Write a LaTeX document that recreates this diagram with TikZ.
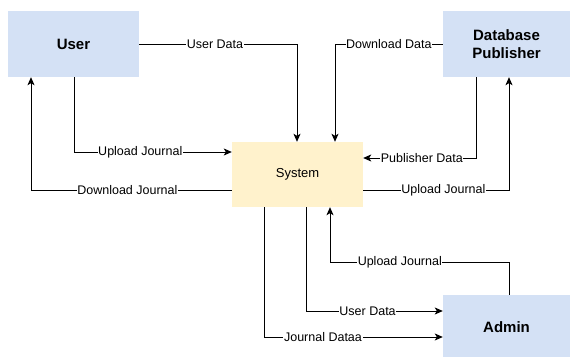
\documentclass[tikz,border=0pt]{standalone}
\usepackage{fontspec}
\setmainfont{Liberation Sans}
\usetikzlibrary{arrows.meta}
\definecolor{boxblue}{HTML}{D4E1F5}
\definecolor{boxyellow}{HTML}{FFF2CC}
\begin{document}
\begin{tikzpicture}[x=1pt,y=-1pt,
  entity/.style={fill=boxblue,draw=none,inner sep=0pt,font=\fontsize{15}{17.5}\selectfont\bfseries,align=center},
  proc/.style={fill=boxyellow,draw=none,inner sep=0pt,font=\fontsize{13}{15}\selectfont},
  flow/.style={draw=black,line width=0.9pt,-{Stealth[length=8pt,width=7pt,inset=2pt]}},
  lbl/.style={fill=white,inner sep=0.6pt,font=\fontsize{12.5}{14}\selectfont}]
\useasboundingbox (0,0) rectangle (570,356);
\begin{scope}
\clip (0,0) rectangle (570,356);
\node[entity,minimum width=131pt,minimum height=66pt] (user) at (73.5,44) {User};
\node[entity,minimum width=127pt,minimum height=66pt] (db) at (506.5,44) {Database\\Publisher};
\node[proc,minimum width=131pt,minimum height=65pt] (sys) at (297.5,174.5) {System};
\node[entity,minimum width=127pt,minimum height=64pt] (admin) at (506.5,327) {Admin};
\end{scope}
\coordinate (c1) at (297,44);
\coordinate (c2) at (335,44);
\coordinate (c3) at (74,152);
\coordinate (c4) at (31,190);
\coordinate (c5) at (476,158);
\coordinate (c6) at (509,190);
\coordinate (c7a) at (509,262);
\coordinate (c7b) at (330,262);
\coordinate (c8) at (306,311);
\coordinate (c9) at (264,337);
% User Data
\draw[flow] (user.east |- c1) -- node[lbl,pos=0.48]{User Data} (c1) -- (c1 |- sys.north);
% Download Data
\draw[flow] (db.west |- c2) -- node[lbl,pos=0.5]{Download Data} (c2) -- (c2 |- sys.north);
% Upload Journal (user)
\draw[flow] (c3 |- user.south) -- (c3) -- node[lbl,pos=0.42]{Upload Journal} (sys.west |- c3);
% Download Journal
\draw[flow] (sys.west |- c4) -- node[lbl,pos=0.52]{Download Journal} (c4) -- (c4 |- user.south);
% Publisher Data
\draw[flow] (c5 |- db.south) -- (c5) -- node[lbl,pos=0.48]{Publisher Data} (sys.east |- c5);
% Upload Journal (db)
\draw[flow] (sys.east |- c6) -- node[lbl,pos=0.55]{Upload Journal} (c6) -- (c6 |- db.south);
% Upload Journal (admin)
\draw[flow] (c7a |- admin.north) -- (c7a) -- node[lbl,pos=0.61]{Upload Journal} (c7b) -- (c7b |- sys.south);
% User Data (admin)
\draw[flow] (c8 |- sys.south) -- (c8) -- node[lbl,pos=0.45]{User Data} (admin.west |- c8);
% Journal Dataa
\draw[flow] (c9 |- sys.south) -- (c9) -- node[lbl,pos=0.33]{Journal Dataa} (admin.west |- c9);
\end{tikzpicture}
\end{document}
